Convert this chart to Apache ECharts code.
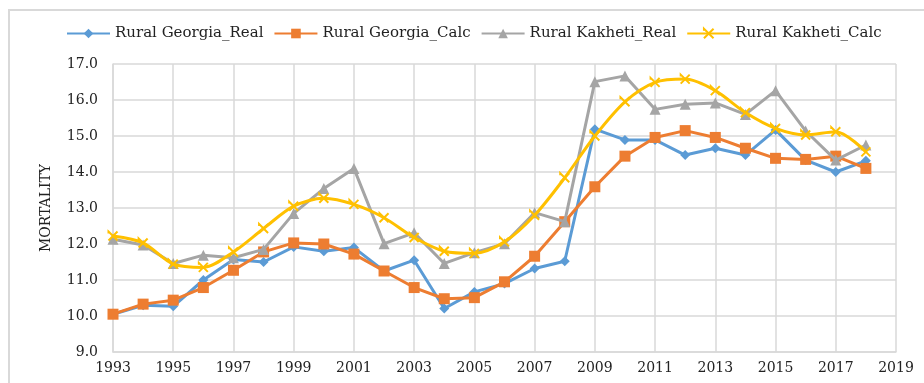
<!DOCTYPE html>
<html>
<head>
<meta charset="utf-8">
<script src="https://cdn.jsdelivr.net/npm/echarts@6/dist/echarts.min.js"></script>
<style>
  html, body { margin: 0; padding: 0; background: #fff; }
  #chart { width: 924px; height: 383px; }
</style>
</head>
<body>
<div id="chart"></div>
<script>
// years 1993..2018
const years = [1993, 1994, 1995, 1996, 1997, 1998, 1999, 2000, 2001, 2002, 2003, 2004, 2005,
  2006, 2007, 2008, 2009, 2010, 2011, 2012, 2013, 2014, 2015, 2016, 2017, 2018]

const georgiaReal = [10.05, 10.30, 10.27, 11.00, 11.57, 11.50, 11.92, 11.80, 11.90, 11.25, 11.55, 10.21, 10.67,
  10.90, 11.32, 11.52, 15.19, 14.89, 14.89, 14.47, 14.66, 14.47, 15.17, 14.33, 14.00, 14.31]
const georgiaCalc = [10.05, 10.33, 10.44, 10.79, 11.27, 11.78, 12.03, 12.00, 11.72, 11.25, 10.79, 10.48, 10.51,
  10.95, 11.66, 12.62, 13.59, 14.44, 14.96, 15.15, 14.96, 14.66, 14.38, 14.35, 14.44, 14.10]
const kakhetiReal = [12.13, 11.97, 11.46, 11.69, 11.62, 11.85, 12.85, 13.54, 14.10, 12.01, 12.31, 11.46, 11.76,
  12.01, 12.87, 12.62, 16.51, 16.67, 15.74, 15.88, 15.92, 15.60, 16.26, 15.14, 14.33, 14.75]
const kakhetiCalc = [12.22, 12.03, 11.44, 11.35, 11.78, 12.43, 13.05, 13.27, 13.10, 12.73, 12.18, 11.80, 11.74,
  12.06, 12.80, 13.84, 15.00, 15.95, 16.49, 16.58, 16.26, 15.65, 15.21, 15.03, 15.12, 14.56]

const seriesNames = ['Rural Georgia_Real', 'Rural Georgia_Calc', 'Rural Kakheti_Real', 'Rural Kakheti_Calc']
const colors = ['#5B9BD5', '#ED7D31', '#A5A5A5', '#FFC000']

const serif = '"DejaVu Serif", "Liberation Serif", serif'
const pairs = arr => arr.map((v, i) => [years[i], v])

// X-shaped marker for the yellow series
const crossPath = 'path://M0,0 L10,10 M10,0 L0,10 M0,0 L1,1 L0,1 Z'

const chart = echarts.init(document.getElementById('chart'))

chart.setOption({
  animation: false,
  color: colors,
  graphic: [{
    type: 'rect',
    shape: { x: 9, y: 10, width: 940, height: 400 },
    style: { fill: 'none', stroke: '#d9d9d9', lineWidth: 2 },
    silent: true
  }],
  legend: {
    left: 61,
    top: 21,
    itemWidth: 43,
    itemHeight: 12,
    itemGap: 10,
    textStyle: { fontFamily: serif, fontSize: 15, color: '#222' },
    data: seriesNames
  },
  grid: { left: 113, right: 28, top: 64, bottom: 31, containLabel: false },
  xAxis: {
    type: 'value',
    min: 1993,
    max: 2019,
    interval: 2,
    axisLine: { show: true, lineStyle: { color: '#d9d9d9', width: 1.5 } },
    axisTick: { show: false },
    splitLine: { show: true, lineStyle: { color: '#d9d9d9', width: 1.5 } },
    axisLabel: { margin: 9, fontFamily: serif, fontSize: 14, color: '#222', formatter: v => String(v) }
  },
  yAxis: {
    type: 'value',
    min: 9,
    max: 17,
    interval: 1,
    name: 'MORTALITY',
    nameLocation: 'middle',
    nameGap: 60,
    nameTextStyle: { fontFamily: serif, fontSize: 14, color: '#222' },
    axisLine: { show: true, lineStyle: { color: '#d9d9d9', width: 1.5 } },
    axisTick: { show: false },
    splitLine: { show: true, lineStyle: { color: '#d9d9d9', width: 1.5 } },
    axisLabel: { margin: 15, fontFamily: serif, fontSize: 14, color: '#222', formatter: v => v.toFixed(1) }
  },
  series: [
    {
      name: seriesNames[0],
      type: 'line',
      data: pairs(georgiaReal),
      symbol: 'diamond',
      symbolSize: 10,
      lineStyle: { width: 3 },
      z: 2
    },
    {
      name: seriesNames[1],
      type: 'line',
      data: pairs(georgiaCalc),
      symbol: 'rect',
      symbolSize: 11,
      lineStyle: { width: 3 },
      z: 3
    },
    {
      name: seriesNames[2],
      type: 'line',
      data: pairs(kakhetiReal),
      symbol: 'triangle',
      symbolSize: 11,
      lineStyle: { width: 3 },
      z: 4
    },
    {
      name: seriesNames[3],
      type: 'line',
      data: pairs(kakhetiCalc),
      symbol: crossPath,
      symbolSize: 9,
      smooth: 0.3,
      itemStyle: { color: '#FFC000', borderColor: '#FFC000', borderWidth: 2 },
      lineStyle: { width: 3 },
      z: 5
    }
  ]
})
</script>
</body>
</html>
